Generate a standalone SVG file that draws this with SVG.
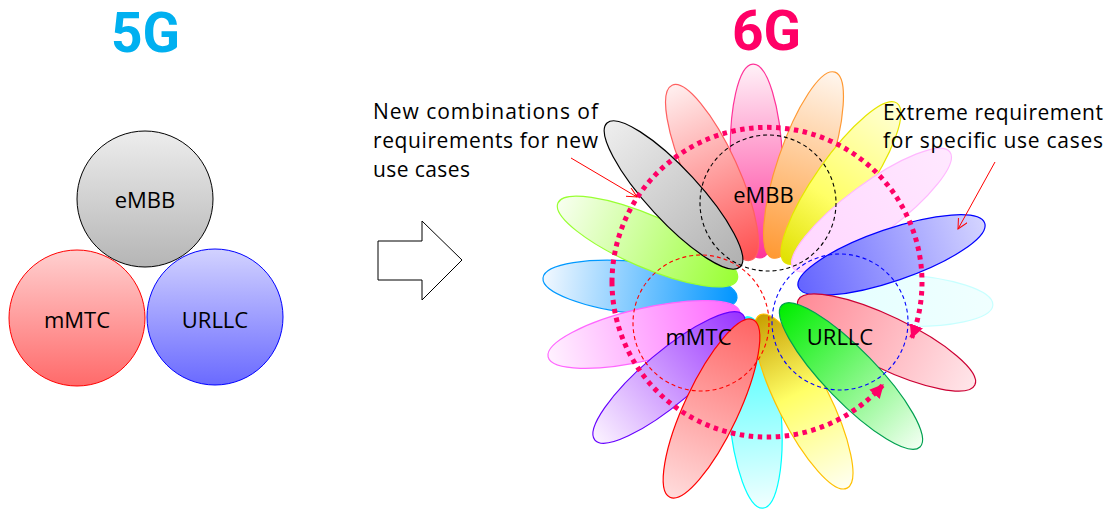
<svg xmlns="http://www.w3.org/2000/svg" width="1109" height="509" viewBox="0 0 1109 509">
<style>
.lbl{font-family:"Open Sans","Noto Sans","DejaVu Sans",sans-serif;font-size:22px;fill:#000;text-anchor:middle}
.note{font-family:"Open Sans","Noto Sans","DejaVu Sans",sans-serif;font-size:21px;fill:#000}
.title{font-family:Roboto,"Liberation Sans",sans-serif;font-weight:bold;font-size:55px;text-anchor:middle}
.petal{stroke-width:1.2}
.dash{fill:none;stroke-width:1.1;stroke-dasharray:4 3}
.dots{fill:none;stroke:#FF0066;stroke-width:5;stroke-dasharray:4.5 4.5}
.call{fill:none;stroke:#FF0000;stroke-width:1}
</style>
<defs>
<linearGradient id="gGray5" x1="0" y1="0" x2="0" y2="1"><stop offset="0" stop-color="#EDEDED"/><stop offset="1" stop-color="#B5B5B5"/></linearGradient>
<linearGradient id="gRed5" x1="0" y1="0" x2="0" y2="1"><stop offset="0" stop-color="#FFD0D0"/><stop offset="1" stop-color="#FF6A6A"/></linearGradient>
<linearGradient id="gBlue5" x1="0" y1="0" x2="0" y2="1"><stop offset="0" stop-color="#D2D2FF"/><stop offset="1" stop-color="#6A6AFF"/></linearGradient>
<linearGradient id="p1"><stop offset="0" stop-color="#FFF2F8"/><stop offset="1" stop-color="#FF3399"/></linearGradient>
<linearGradient id="p2"><stop offset="0" stop-color="#FFF0F0"/><stop offset="1" stop-color="#FF5050"/></linearGradient>
<linearGradient id="p3"><stop offset="0" stop-color="#FFF6EE"/><stop offset="1" stop-color="#FF9933"/></linearGradient>
<linearGradient id="p4"><stop offset="0" stop-color="#FFFFD8"/><stop offset="0.6" stop-color="#FFFF66"/><stop offset="1" stop-color="#E0E000"/></linearGradient>
<linearGradient id="p5"><stop offset="0" stop-color="#FFE8FF"/><stop offset="1" stop-color="#FFD6FF"/></linearGradient>
<linearGradient id="p6"><stop offset="0" stop-color="#D4D4FF"/><stop offset="1" stop-color="#6464FF"/></linearGradient>
<linearGradient id="p7"><stop offset="0" stop-color="#F0FFFF"/><stop offset="1" stop-color="#E2FFFF"/></linearGradient>
<linearGradient id="p8"><stop offset="0" stop-color="#FFE6EA"/><stop offset="1" stop-color="#FF8A96"/></linearGradient>
<linearGradient id="p9"><stop offset="0" stop-color="#F2FFF2"/><stop offset="1" stop-color="#00EE00"/></linearGradient>
<linearGradient id="p10"><stop offset="0" stop-color="#FFFFF2"/><stop offset="0.55" stop-color="#FFFF66"/><stop offset="1" stop-color="#C89E00"/></linearGradient>
<linearGradient id="p11"><stop offset="0" stop-color="#F2FFFF"/><stop offset="1" stop-color="#33FFFF"/></linearGradient>
<linearGradient id="p12"><stop offset="0" stop-color="#FFDCDC"/><stop offset="1" stop-color="#FF6464"/></linearGradient>
<linearGradient id="p13"><stop offset="0" stop-color="#FBF2FF"/><stop offset="1" stop-color="#9933FF"/></linearGradient>
<linearGradient id="p14"><stop offset="0" stop-color="#FFF2FF"/><stop offset="1" stop-color="#FF66FF"/></linearGradient>
<linearGradient id="p15"><stop offset="0" stop-color="#F2F8FF"/><stop offset="1" stop-color="#0095FF"/></linearGradient>
<linearGradient id="p16"><stop offset="0" stop-color="#F8FFF0"/><stop offset="1" stop-color="#99FF33"/></linearGradient>
<linearGradient id="p17"><stop offset="0" stop-color="#EEEEEE"/><stop offset="1" stop-color="#B0B0B0"/></linearGradient>
<marker id="dotArrow" markerUnits="userSpaceOnUse" markerWidth="16" markerHeight="16" refX="13" refY="7" orient="auto"><path d="M0,0 L14,7 L0,14 Z" fill="#FF0066"/></marker>
<marker id="openArrow" markerUnits="userSpaceOnUse" markerWidth="12" markerHeight="12" refX="10" refY="5" orient="auto"><path d="M0,0 L10,5 L0,10" fill="none" stroke="#FF0000" stroke-width="1"/></marker>
</defs>
<rect width="1109" height="509" fill="#FFFFFF"/>

<g id="title-5g"><text class="title" x="145.5" y="52" fill="#00B0F0">5G</text></g>
<g id="title-6g"><text class="title" x="766.5" y="50" fill="#FF0066">6G</text></g>

<g id="node-5g-embb"><circle cx="145" cy="199" r="68" fill="url(#gGray5)" stroke="#000" stroke-width="1"/><text class="lbl" x="145" y="208">eMBB</text></g>
<g id="node-5g-mmtc"><circle cx="77" cy="318" r="68" fill="url(#gRed5)" stroke="#FF0000" stroke-width="1"/><text class="lbl" x="77" y="328">mMTC</text></g>
<g id="node-5g-urllc"><circle cx="215" cy="317" r="68" fill="url(#gBlue5)" stroke="#0000FF" stroke-width="1"/><text class="lbl" x="215" y="328">URLLC</text></g>

<g id="big-arrow"><polygon points="378,241 422,241 422,221 462,260 422,300 422,280 378,280" fill="#FFFFFF" stroke="#000" stroke-width="1"/></g>

<g id="petals">
<ellipse class="petal" rx="97" ry="26" fill="url(#p1)" stroke="#FF3399" transform="translate(756.5,161) rotate(87.93)"/>
<ellipse class="petal" rx="98" ry="26" fill="url(#p3)" stroke="#FF9933" transform="translate(803.5,165) rotate(108.71)"/>
<ellipse class="petal" rx="97.5" ry="26" fill="url(#p4)" stroke="#E6E600" transform="translate(841,183) rotate(124.99)"/>
<ellipse class="petal" rx="97.5" ry="26" fill="url(#p5)" stroke="#FFB8FF" transform="translate(871.5,210) rotate(143.46)"/>
<ellipse class="petal" rx="96.5" ry="26" fill="url(#p7)" stroke="#C8FFFF" transform="translate(896.5,300) rotate(-177.03)"/>
<ellipse class="petal" rx="98.5" ry="26" fill="url(#p6)" stroke="#0000FF" transform="translate(891.5,255) rotate(161.1)"/>
<ellipse class="petal" rx="98" ry="26" fill="url(#p8)" stroke="#CC0033" transform="translate(886.5,342.5) rotate(-154.35)"/>
<ellipse class="petal" rx="96" ry="26" fill="url(#p11)" stroke="#00FFFF" transform="translate(755,412.5) rotate(-94.79)"/>
<ellipse class="petal" rx="97" ry="26" fill="url(#p10)" stroke="#FFC000" transform="translate(803.5,401.5) rotate(-116.7)"/>
<ellipse class="petal" rx="99" ry="26" fill="url(#p9)" stroke="#00A050" transform="translate(851,376) rotate(-134.18)"/>
<ellipse class="petal" rx="97.5" ry="26" fill="url(#p15)" stroke="#0099FF" transform="translate(640,288) rotate(5.89)"/>
<ellipse class="petal" rx="98.5" ry="26" fill="url(#p14)" stroke="#FF66FF" transform="translate(644,334.5) rotate(-13.19)"/>
<ellipse class="petal" rx="97" ry="26" fill="url(#p13)" stroke="#6600FF" transform="translate(669,377.5) rotate(-40.18)"/>
<ellipse class="petal" rx="98" ry="27" fill="url(#p12)" stroke="#FF0000" transform="translate(711.5,408.5) rotate(-64.88)"/>
<ellipse class="petal" rx="97.5" ry="26" fill="url(#p16)" stroke="#99FF33" transform="translate(647.5,241.5) rotate(23.28)"/>
<ellipse class="petal" rx="96" ry="26" fill="url(#p2)" stroke="#FF6060" transform="translate(712,172.5) rotate(65.43)"/>
<ellipse class="petal" rx="98" ry="26" fill="url(#p17)" stroke="#000000" transform="translate(673.5,195) rotate(47.27)"/>
</g>

<g id="node-6g-embb"><circle class="dash" cx="768" cy="203" r="68" stroke="#000"/><text class="lbl" x="763.5" y="203">eMBB</text></g>
<g id="node-6g-mmtc"><circle class="dash" cx="701" cy="323" r="68" stroke="#FF0000"/><text class="lbl" x="698.5" y="345">mMTC</text></g>
<g id="node-6g-urllc"><circle class="dash" cx="840" cy="322" r="68" stroke="#0000FF"/><text class="lbl" x="840" y="345">URLLC</text></g>

<g id="connectors">
<path class="dots" d="M612,282 A155,155 0 1 1 911.7,337.9" marker-end="url(#dotArrow)"/>
<path class="dots" d="M612,282 A155,155 0 0 0 883.1,384.7" marker-end="url(#dotArrow)"/>
<line class="call" x1="571" y1="158" x2="637" y2="197" marker-end="url(#openArrow)"/>
<line class="call" x1="995" y1="162" x2="958" y2="229" marker-end="url(#openArrow)"/>
</g>

<g id="note-combinations">
<text class="note" x="373" y="119" textLength="225" lengthAdjust="spacing">New combinations of</text>
<text class="note" x="373" y="148" textLength="225" lengthAdjust="spacing">requirements for new</text>
<text class="note" x="373" y="176.5" textLength="97" lengthAdjust="spacing">use cases</text>
</g>
<g id="note-extreme">
<text class="note" x="883" y="120" textLength="220" lengthAdjust="spacing">Extreme requirement</text>
<text class="note" x="883" y="148" textLength="220" lengthAdjust="spacing">for specific use cases</text>
</g>
</svg>
